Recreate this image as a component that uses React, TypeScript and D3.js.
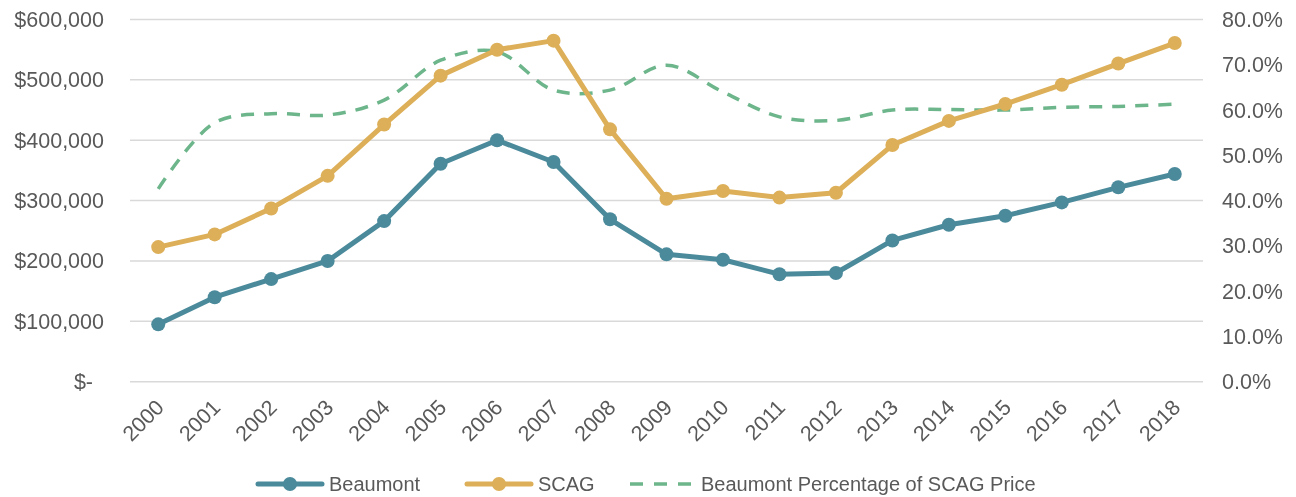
import { useRef, useEffect } from 'react';
import * as d3 from 'd3';

const years = ['2000', '2001', '2002', '2003', '2004', '2005', '2006', '2007', '2008', '2009',
  '2010', '2011', '2012', '2013', '2014', '2015', '2016', '2017', '2018'];
const beaumont = [95000, 140000, 170000, 200000, 266000, 361000, 400000, 364000, 269000, 211000,
  202000, 178000, 180000, 234000, 260000, 275000, 297000, 322000, 344000];
const scag = [223000, 244000, 287000, 341000, 426000, 507000, 550000, 565000, 418000, 303000,
  316000, 305000, 313000, 392000, 432000, 460000, 492000, 527000, 561000];
const pct = [0.426, 0.572, 0.592, 0.589, 0.622, 0.71, 0.729, 0.644, 0.644, 0.699,
  0.64, 0.585, 0.577, 0.6, 0.601, 0.6, 0.606, 0.608, 0.613];
const leftTicks = [0, 100000, 200000, 300000, 400000, 500000, 600000];
const rightTicks = [0, 0.1, 0.2, 0.3, 0.4, 0.5, 0.6, 0.7, 0.8];

const TEAL = '#4a8a9b';
const GOLD = '#dcaf58';
const GREEN = '#6db58b';
const TEXT = '#595959';
const FONT = '"Liberation Sans", Arial, sans-serif';

function Chart() {
  const ref = useRef<SVGSVGElement | null>(null);

  useEffect(() => {
    const el = ref.current;
    if (!el) return;
    const svg = d3.select(el);
    svg.selectAll('*').remove();

    const left = 130, right = 1203, top = 19.5, bottom = 381.7;

    const x = d3.scaleBand().domain(years).range([left, right]);
    const cx = (d: string) => (x(d) ?? 0) + x.bandwidth() / 2;
    const y = d3.scaleLinear().domain([0, 600000]).range([bottom, top]);
    const y2 = d3.scaleLinear().domain([0, 0.8]).range([bottom, top]);

    // gridlines
    svg.append('g')
      .selectAll('line')
      .data(leftTicks)
      .enter()
      .append('line')
      .attr('x1', left).attr('x2', right)
      .attr('y1', d => y(d)).attr('y2', d => y(d))
      .attr('stroke', '#d9d9d9').attr('stroke-width', 1.5);

    // left axis labels
    svg.append('g')
      .selectAll('text')
      .data(leftTicks)
      .enter()
      .append('text')
      .attr('x', d => (d === 0 ? 93 : 104))
      .attr('y', d => y(d))
      .attr('dy', '0.35em')
      .attr('text-anchor', 'end')
      .attr('font-family', FONT).attr('font-size', 21.5).attr('fill', TEXT)
      .text(d => (d === 0 ? '$-' : d3.format('$,')(d)));

    // right axis labels
    svg.append('g')
      .selectAll('text')
      .data(rightTicks)
      .enter()
      .append('text')
      .attr('x', 1222)
      .attr('y', d => y2(d))
      .attr('dy', '0.35em')
      .attr('font-family', FONT).attr('font-size', 21.5).attr('fill', TEXT)
      .text(d => d3.format('.1%')(d));

    // x labels
    svg.append('g')
      .selectAll('text')
      .data(years)
      .enter()
      .append('text')
      .attr('transform', d => `translate(${cx(d) + 7},${bottom + 27}) rotate(-45)`)
      .attr('text-anchor', 'end')
      .attr('font-family', FONT).attr('font-size', 21.5).attr('fill', TEXT)
      .text(d => d);

    // percentage line
    const pctLine = d3.line<number>()
      .x((_, i) => cx(years[i]))
      .y(d => y2(d))
      .curve(d3.curveCatmullRom.alpha(0.5));
    svg.append('path')
      .datum(pct)
      .attr('d', pctLine)
      .attr('fill', 'none')
      .attr('stroke', GREEN).attr('stroke-width', 3.5)
      .attr('stroke-dasharray', '13,10');

    const valLine = d3.line<number>()
      .x((_, i) => cx(years[i]))
      .y(d => y(d));

    const series = [
      { values: scag, color: GOLD },
      { values: beaumont, color: TEAL },
    ];
    series.forEach(s => {
      svg.append('path')
        .datum(s.values)
        .attr('d', valLine)
        .attr('fill', 'none')
        .attr('stroke', s.color).attr('stroke-width', 5)
        .attr('stroke-linejoin', 'round');
      svg.append('g')
        .selectAll('circle')
        .data(s.values)
        .enter()
        .append('circle')
        .attr('cx', (_, i) => cx(years[i]))
        .attr('cy', d => y(d))
        .attr('r', 7)
        .attr('fill', s.color);
    });

    // legend
    const ly = 484;
    const legend = svg.append('g');
    const items = [
      { label: 'Beaumont', color: TEAL, x0: 258, dashed: false },
      { label: 'SCAG', color: GOLD, x0: 467, dashed: false },
      { label: 'Beaumont Percentage of SCAG Price', color: GREEN, x0: 630, dashed: true },
    ];
    items.forEach(it => {
      legend.append('line')
        .attr('x1', it.x0).attr('x2', it.x0 + 64)
        .attr('y1', ly).attr('y2', ly)
        .attr('stroke', it.color)
        .attr('stroke-width', it.dashed ? 3.5 : 5)
        .attr('stroke-dasharray', it.dashed ? '13,11' : null)
        .attr('stroke-linecap', it.dashed ? 'butt' : 'round');
      if (!it.dashed) {
        legend.append('circle')
          .attr('cx', it.x0 + 32).attr('cy', ly).attr('r', 7)
          .attr('fill', it.color);
      }
      legend.append('text')
        .attr('x', it.x0 + 71)
        .attr('y', ly)
        .attr('dy', '0.35em')
        .attr('font-family', FONT).attr('font-size', 20).attr('fill', TEXT)
        .text(it.label);
    });
  }, []);

  return <svg ref={ref} width={1296} height={497} style={{ display: 'block' }} />;
}

export default function App() {
  return (
    <div style={{ position: 'fixed', top: 0, left: 0, width: 1296, height: 497, overflow: 'hidden' }}>
      <Chart />
    </div>
  );
}
